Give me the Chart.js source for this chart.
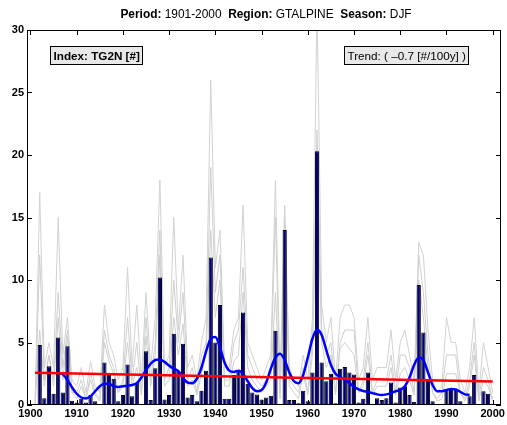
<!DOCTYPE html>
<html><head><meta charset="utf-8">
<script src="https://cdn.jsdelivr.net/npm/chart.js@4/dist/chart.umd.min.js"></script>
<style>html,body{margin:0;padding:0;background:#fff}canvas{display:block}</style>
</head><body>
<canvas id="c" width="507" height="425"></canvas>
<script>
// ---- data ----
const years = Array.from({length: 100}, (_, i) => 1901 + i);
const indexValues = [
  null, 4.8, 0.55, 3.1, 0.9, 5.4, 1.0, 4.7, 0.35, 0.2,
  0.5, 0.2, 0.8, 0.3, 0.05, 3.4, 2.4, 2.1, 0.3, 0.8,
  3.25, 0.7, 1.8, 0.1, 4.3, 0.4, 2.95, 10.2, 0.45, 0.8,
  5.7, 2.7, 4.9, 0.6, 0.8, 0.3, 1.15, 2.75, 11.8, 5.0,
  8.0, 0.5, 0.5, 2.4, 2.8, 7.4, 1.7, 1.0, 0.85, 0.45,
  0.6, 0.75, 5.95, 0.1, 14.0, 0.4, 0.4, 0.15, 1.15, 0.3,
  2.6, 20.3, 3.4, 1.9, 2.5, 0.15, 2.9, 3.05, 2.6, 2.45,
  0.2, 0.5, 2.6, 0.1, 0.55, 0.4, 0.55, 1.8, 0.2, 1.4,
  1.5, 0.8, 0.27, 9.6, 5.8, 2.0, 0.3, 0.05, 0.1, 1.2,
  1.3, 1.25, 0.3, 0.05, 0.7, 2.4, 0.05, 1.1, 0.9, 0.1
];
const memberMax = [
  0, 17, 3, 5, 3, 15, 4, 7, 2, 1.5,
  3, 1, 3.5, 1.5, 1, 8, 5, 4, 2, 3,
  11, 3, 8, 2, 9, 3, 7, 18, 3, 4,
  15, 6, 12, 3, 4, 2, 5, 7, 26, 11,
  14, 3, 3, 6, 7, 16, 5, 4, 3, 2,
  3, 4, 18, 2, 16, 3, 2, 1.5, 4, 2,
  7, 32, 8, 5, 7, 2, 7, 8, 8, 7,
  2, 3, 7, 2, 3, 3, 3, 6, 2, 5,
  6, 4, 2, 13, 12, 6, 2, 1, 1.5, 7,
  5, 5, 2, 1, 3, 7, 1, 5, 3, 1
];
const memberSecond = [
  0, 12, 2, 4, 2, 9, 3, 6, 1, 1,
  2, 0.5, 2.5, 1, 0.5, 6, 4, 3, 1, 2,
  7, 2, 5, 1, 7, 2, 5, 14, 2, 3,
  10, 5, 9, 2, 3, 1, 4, 5, 19, 9,
  12, 2, 2, 5, 6, 11, 4, 3, 2, 1.5,
  2, 3, 15, 1, 15, 2, 1.5, 1, 3, 1,
  5, 22, 6, 4, 5, 1, 5, 6, 6, 6,
  1, 2, 5, 1, 2, 2, 2, 4, 1, 4,
  4, 3, 1, 12, 9, 4, 1, 0.5, 1, 4,
  4, 4, 1, 0.5, 2, 5, 0.5, 3, 2, 0.5
];
const memberMid = [
  0, 6, 1.5, 4, 1.5, 7, 2, 5.5, 1, 0.5,
  1.5, 0.5, 2, 0.8, 0.3, 5, 3.5, 2.5, 1, 1.5,
  5, 1.5, 3, 0.8, 5.5, 1.5, 4, 12, 1.5, 2,
  7, 4, 6.5, 1.5, 2, 0.8, 2.5, 4, 14, 7,
  10, 1.5, 1.5, 3.5, 4, 9, 3, 2, 1.5, 1,
  1.5, 2, 9, 0.5, 12, 1.5, 1, 0.5, 2.5, 0.8,
  4, 18, 5, 3, 4, 0.8, 4.5, 5, 4.5, 4,
  1, 1.5, 4, 0.8, 1.5, 1.5, 1.5, 3, 0.8, 2.5,
  3, 2, 0.8, 10, 7, 3, 1, 0.3, 0.5, 2.5,
  2.5, 2.5, 1, 0.3, 1.5, 4, 0.3, 2, 1.5, 0.3
];
const smoothYears = Array.from({length: 90}, (_, i) => 1906 + i);
const smoothValues = [
  2.6, 2.45, 2.0, 1.4, 0.9, 0.6, 0.53, 0.7, 1.1, 1.5,
  1.7, 1.7, 1.5, 1.45, 1.5, 1.55, 1.6, 1.75, 2.2, 2.8,
  3.3, 3.6, 3.65, 3.45, 3.15, 2.9, 2.7, 2.15, 1.8, 1.75,
  2.1, 3.0, 4.3, 5.3, 5.45, 4.6, 3.4, 2.75, 2.65, 2.75,
  2.5, 1.9, 1.35, 1.1, 1.2, 1.8, 2.9, 3.8, 4.1, 3.6,
  2.6, 1.9, 1.75, 2.4, 3.8, 5.3, 6.05, 5.6, 4.4, 3.2,
  2.5, 2.25, 2.0, 1.75, 1.45, 1.25, 1.12, 1.05, 0.95, 0.85,
  0.8, 0.85, 0.95, 1.1, 1.2, 1.5, 2.2, 3.2, 3.8, 3.6,
  2.6, 1.6, 1.1, 1.1, 1.2, 1.28, 1.25, 1.05, 0.85, 0.8
];
const trendYears = [1901, 2000];
const trendValues = [2.58, 1.88];
const xTickValues = [1900, 1910, 1920, 1930, 1940, 1950, 1960, 1970, 1980, 1990, 2000];
const yTickValues = [0, 5, 10, 15, 20, 25, 30];
const titleParts = [['Period:', true], [' 1901-2000  ', false], ['Region:', true], [' GTALPINE  ', false], ['Season:', true], [' DJF', false]];
const indexLabel = 'Index: TG2N [#]';
const trendLabel = 'Trend: ( \u20130.7 [#/100y] )';

// ---- helpers ----
const pts = (xs, ys) => xs.map((x, i) => ({x: x, y: ys[i]}));
const FONT = '"Liberation Sans", Arial, Helvetica, sans-serif';

const decor = {
  id: 'decor',
  afterDraw(chart) {
    const {ctx, chartArea: a, scales: {x, y}} = chart;
    ctx.save();
    ctx.strokeStyle = '#000';
    ctx.lineWidth = 1;
    ctx.strokeRect(Math.round(a.left) + 0.5, Math.round(a.top) + 0.5,
                   Math.round(a.right - a.left) - 1, Math.round(a.bottom - a.top) - 1);
    ctx.beginPath();
    xTickValues.forEach(v => {
      const px = Math.round(x.getPixelForValue(v)) + 0.5;
      ctx.moveTo(px, a.bottom); ctx.lineTo(px, a.bottom - 5);
      ctx.moveTo(px, a.top); ctx.lineTo(px, a.top + 5);
    });
    yTickValues.forEach(v => {
      const py = Math.round(y.getPixelForValue(v)) + 0.5;
      ctx.moveTo(a.left, py); ctx.lineTo(a.left + 5, py);
      ctx.moveTo(a.right, py); ctx.lineTo(a.right - 5, py);
    });
    ctx.stroke();
    ctx.fillStyle = '#000';
    ctx.textBaseline = 'alphabetic';
    ctx.textAlign = 'left';
    const tSize = 11.9;
    let total = 0;
    titleParts.forEach(([t, b]) => { ctx.font = (b ? 'bold ' : '') + tSize + 'px ' + FONT; total += ctx.measureText(t).width; });
    let tx = (a.left + a.right) / 2 - total / 2 + 2;
    titleParts.forEach(([t, b]) => { ctx.font = (b ? 'bold ' : '') + tSize + 'px ' + FONT; ctx.fillText(t, tx, 18); tx += ctx.measureText(t).width; });
    const box = (text, bold, left, right) => {
      ctx.font = (bold ? 'bold ' : '') + '11.7px ' + FONT;
      const w = ctx.measureText(text).width;
      const bw = Math.round(w + 6);
      const bx = Math.round(left !== null ? left : right - bw);
      const by = a.top + 16, bh = 18;
      ctx.fillStyle = '#e8e8e8';
      ctx.fillRect(bx, by, bw, bh);
      ctx.strokeStyle = '#000';
      ctx.strokeRect(bx + 0.5, by + 0.5, bw, bh);
      ctx.fillStyle = '#000';
      ctx.fillText(text, bx + 3.5, by + 13.5);
    };
    box(indexLabel, true, a.left + 23, null);
    box(trendLabel, false, null, a.right - 33);
    ctx.restore();
  }
};

new Chart(document.getElementById('c'), {
  data: {
    datasets: [
      {type: 'line', data: pts(trendYears, trendValues), borderColor: '#ff0000', borderWidth: 2.5, pointRadius: 0, order: 0},
      {type: 'line', data: pts(smoothYears, smoothValues), borderColor: '#0000ff', borderWidth: 2.5, pointRadius: 0, tension: 0.4, cubicInterpolationMode: 'monotone', order: 1},
      {type: 'bar', data: pts(years, indexValues), backgroundColor: '#000080', borderColor: '#000000', borderWidth: 1, barPercentage: 0.92, categoryPercentage: 1, order: 2},
      {type: 'line', data: pts(years, memberMid), borderColor: '#cfcfcf', borderWidth: 1, pointRadius: 0, order: 3},
      {type: 'line', data: pts(years, memberSecond), borderColor: '#cfcfcf', borderWidth: 1, pointRadius: 0, order: 4},
      {type: 'line', data: pts(years, memberMax), borderColor: '#d2d2d2', borderWidth: 1, pointRadius: 0, order: 5}
    ]
  },
  options: {
    responsive: false,
    animation: false,
    devicePixelRatio: 1,
    layout: {padding: {top: 30, right: 4, bottom: 0, left: 0}},
    plugins: {legend: {display: false}, tooltip: {enabled: false}, title: {display: false}},
    scales: {
      x: {
        type: 'linear', min: 1899.25, max: 2001.8, offset: false,
        grid: {display: false, drawTicks: false}, border: {display: false},
        afterBuildTicks: s => { s.ticks = xTickValues.map(v => ({value: v})); },
        ticks: {autoSkip: false, maxRotation: 0, padding: 2, color: '#000',
                font: {family: FONT, weight: 'bold', size: 11}, callback: v => String(v)},
        afterFit: s => { s.height = 20; }
      },
      y: {
        type: 'linear', min: 0, max: 30,
        grid: {display: false, drawTicks: false}, border: {display: false},
        afterBuildTicks: s => { s.ticks = yTickValues.map(v => ({value: v})); },
        ticks: {autoSkip: false, padding: 3, color: '#000',
                font: {family: FONT, weight: 'bold', size: 11}, callback: v => String(v)},
        afterFit: s => { s.width = 27; }
      }
    }
  },
  plugins: [decor]
});
</script>
</body></html>
